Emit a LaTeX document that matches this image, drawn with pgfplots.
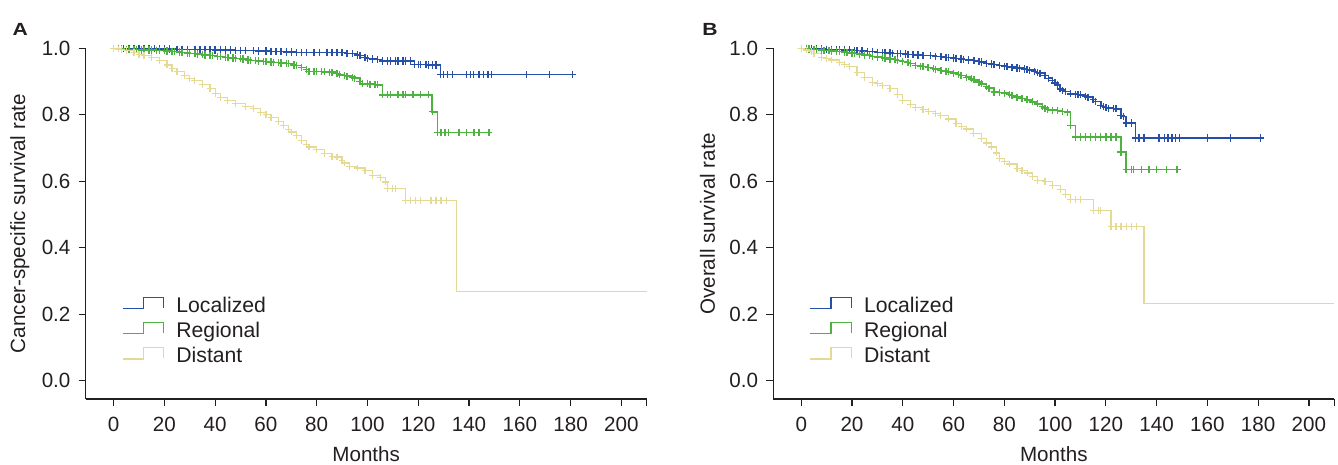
\documentclass[border=0pt]{standalone}
\usepackage{pgfplots}
\pgfplotsset{compat=1.18}
\usepackage{fontspec}
\setmainfont{Liberation Sans}

\definecolor{loc}{RGB}{38,80,168}
\definecolor{reg}{RGB}{78,178,64}
\definecolor{dis}{RGB}{228,218,148}
\definecolor{txt}{RGB}{35,31,32}

\pgfplotsset{
  km/.style={
    scale only axis, width=280.5pt, height=175.35pt,
    xmin=-11, xmax=210, ymin=-0.055, ymax=1.0,
    axis lines=left, axis line style={-, txt, line width=0.6pt},
    tick style={txt, line width=0.6pt}, tick align=outside,
    major tick length=3.5pt,
    xtick={0,20,...,200}, ytick={0,0.2,0.4,0.6,0.8,1.0},
    extra x ticks={210}, extra x tick labels={},
    /pgf/number format/assume math mode=true,
    yticklabel style={/pgf/number format/fixed, /pgf/number format/fixed zerofill,
      /pgf/number format/precision=1, xshift=-0.5pt},
    ticklabel style={text=txt},
    xticklabel style={yshift=-2pt},
    xlabel style={at={(rel axis cs:0.5,0)}, anchor=base, yshift=-31.3pt, text=txt},
    ylabel style={at={(rel axis cs:0,0.5)}, anchor=center, yshift=32.9pt, text=txt},
    xlabel={Months},
    clip=false,
    legend cell align=left,
    legend style={draw=none, fill=none, inner sep=0pt, outer sep=0pt,
      at={(rel axis cs:0.0647,0.292)}, anchor=north west,
      row sep=4.6pt, column sep=6pt,
      nodes={inner sep=0pt, text height=7.3pt, text depth=0pt, text=txt,
        font=\fontsize{10.6}{12}\selectfont}},
    legend image code/.code={
      \draw[#1, line width=0.7pt] (0pt,-1.6pt) -- (10.3pt,-1.6pt) -- (10.3pt,4pt)
        -- (20.5pt,4pt) -- (20.5pt,-1.3pt);},
  },
  loccurve/.style={loc, line width=0.75pt, const plot, mark=+, mark size=1.8pt,
    mark options={line width=0.7pt}},
  regcurve/.style={reg, line width=0.75pt, const plot, mark=+, mark size=1.8pt,
    mark options={line width=0.7pt}},
  discurve/.style={dis, line width=0.6pt, const plot, mark=+, mark size=1.7pt,
    mark options={line width=0.6pt}},
}

\begin{document}
\begin{tikzpicture}
\fontsize{10.3}{12}\selectfont
\path[use as bounding box] (-42.85pt,-33pt) rectangle (626.15pt,199.5pt);

% ---- A: cancer-specific survival
\begin{axis}[km, ylabel={Cancer-specific survival rate}]
\addplot[loccurve] coordinates {
 (0,1.0) (2,1.0) (4,1.0) (6,1.0) (8,1.0) (10,0.999) (12,0.999) (14,0.999) (16,0.999)
 (18,0.998) (20,0.998) (22,0.998) (25,0.997) (27,0.997) (29,0.997) (32,0.996)
 (34,0.996) (36,0.996) (38,0.996) (40,0.995) (42,0.995) (44,0.995) (46,0.995)
 (48,0.994) (50,0.994) (52,0.994) (55,0.993) (57,0.992) (60,0.992) (62,0.991)
 (64,0.990) (66,0.990) (68,0.989) (70,0.989) (72,0.988) (74,0.988) (76,0.988)
 (79,0.988) (81,0.988) (84,0.988) (86,0.988) (88,0.987) (90,0.987) (92,0.985)
 (94,0.984) (96,0.980) (97,0.978) (99,0.973) (100,0.970) (102,0.968) (104,0.966)
 (106,0.962) (108,0.962) (109,0.962) (111,0.962) (112,0.962) (114,0.962) (115,0.962)
 (117,0.962) (118.5,0.951) (120,0.951) (121,0.951) (123,0.951) (124,0.950)
 (125.5,0.950) (127,0.950) (128.8,0.921) (130,0.921) (131.5,0.921) (133.5,0.921)
 (139,0.921) (140.5,0.921) (141.8,0.921) (144,0.921) (145.7,0.921) (147.5,0.921)
 (148.9,0.921) (162.7,0.921) (171.7,0.921) (180.8,0.921)};
\addlegendentry{Localized}
\addplot[regcurve] coordinates {
 (0,1.0) (2,0.999) (3,0.998) (5,0.997) (6,0.997) (8,0.996) (9,0.996) (11,0.995)
 (12,0.995) (14,0.995) (15,0.995) (17,0.994) (18,0.994) (20,0.993) (21,0.992)
 (23,0.991) (24,0.990) (26,0.989) (27,0.988) (29,0.986) (30,0.985) (32,0.984)
 (33,0.983) (35,0.981) (36,0.980) (38,0.979) (39,0.978) (41,0.976) (42,0.975)
 (44,0.973) (45,0.972) (47,0.971) (48,0.970) (50,0.969) (51,0.968) (53,0.965)
 (54,0.964) (56,0.963) (57,0.962) (59,0.961) (60,0.960) (62,0.959) (63,0.958)
 (65,0.957) (66,0.956) (68,0.955) (69,0.954) (71,0.950) (72,0.948) (74,0.942)
 (76,0.936) (77,0.930) (79,0.930) (80,0.930) (82,0.930) (83,0.929) (85,0.928)
 (86,0.928) (88,0.924) (89,0.920) (91,0.918) (92,0.916) (94,0.913) (95,0.910)
 (97,0.900) (98,0.893) (100,0.893) (101,0.892) (103,0.891) (104,0.890) (106,0.860)
 (108,0.860) (109,0.860) (112,0.860) (114,0.860) (115,0.860) (118,0.860)
 (121,0.860) (124,0.860) (125.5,0.809) (127.5,0.746) (129,0.746) (130.5,0.746)
 (132,0.746) (136,0.746) (139,0.746) (142,0.746) (144,0.746) (147.8,0.746)};
\addlegendentry{Regional}
\addplot[discurve] coordinates {
 (0,1.0) (2,0.998) (3,0.996) (5,0.993) (8,0.987) (10,0.982) (12,0.978) (15,0.972)
 (18,0.963) (21,0.950) (23,0.940) (25,0.930) (28,0.918) (30,0.910) (32,0.903)
 (35,0.890) (38,0.878) (40,0.865) (42,0.853) (45,0.843) (48,0.833) (52,0.826)
 (55,0.818) (58,0.808) (60,0.800) (62,0.793) (65,0.780) (67,0.768) (69,0.756)
 (70,0.748) (72,0.738) (74,0.723) (76,0.710) (77,0.703) (80,0.695) (83,0.683)
 (86,0.675) (88,0.673) (90,0.662) (91,0.655) (93,0.645) (96,0.640) (99,0.633)
 (102,0.618) (105,0.612) (107,0.598) (108,0.578) (110,0.578) (111,0.578)
 (115,0.543) (117,0.543) (119,0.543) (121,0.543) (125,0.543) (127,0.543)
 (129,0.543) (131,0.543)};
\addlegendentry{Distant}
\addplot[dis, line width=0.6pt, const plot, forget plot] coordinates {
 (131,0.543) (135,0.269) (210,0.269)};
\node[anchor=north west, inner sep=0pt, font=\fontsize{8.8}{10}\selectfont\bfseries, text=txt]
  at (rel axis cs:-0.131,1.073) {\scalebox{1.2}[1]{A}};
\end{axis}

% ---- B: overall survival
\begin{axis}[km, at={(343.8pt,0pt)}, ylabel={Overall survival rate}]
\addplot[loccurve] coordinates {
 (0,1.0) (2,1.0) (4,0.999) (6,0.998) (8,0.998) (10,0.997) (12,0.997) (14,0.996)
 (15,0.996) (17,0.995) (19,0.995) (21,0.994) (22,0.993) (24,0.992) (26,0.991)
 (28,0.990) (30,0.988) (32,0.987) (33,0.987) (35,0.986) (36,0.985) (38,0.984)
 (39,0.984) (41,0.983) (42,0.982) (44,0.981) (46,0.980) (48,0.979) (51,0.978)
 (53,0.976) (55,0.975) (57,0.973) (58,0.972) (60,0.971) (61,0.970) (63,0.968)
 (64,0.967) (66,0.965) (68,0.963) (70,0.960) (71,0.959) (73,0.955) (75,0.953)
 (76,0.951) (78,0.948) (80,0.946) (81,0.945) (83,0.943) (85,0.941) (86,0.940)
 (88,0.938) (89,0.936) (90,0.934) (92,0.930) (93,0.927) (94,0.925) (96,0.918)
 (97.5,0.910) (99,0.903) (100,0.896) (101,0.890) (102,0.878) (103,0.874)
 (104,0.870) (106,0.863) (108,0.862) (109,0.861) (110,0.860) (112,0.856)
 (113,0.853) (115,0.846) (116,0.840) (118,0.828) (119,0.824) (120,0.822)
 (121,0.820) (123,0.818) (124,0.818) (126,0.798) (127,0.795) (128,0.775)
 (130,0.775) (131.7,0.730) (133,0.730) (135,0.730) (141,0.730) (143,0.730)
 (144.5,0.730) (146,0.730) (147.5,0.730) (149,0.730) (160,0.730) (169,0.730)
 (181,0.730)};
\addlegendentry{Localized}
\addplot[regcurve] coordinates {
 (0,1.0) (2,0.999) (3,0.998) (5,0.997) (6,0.996) (8,0.995) (9,0.994) (11,0.993)
 (12,0.992) (14,0.991) (15,0.990) (17,0.989) (18,0.988) (20,0.986) (21,0.985)
 (23,0.983) (25,0.980) (27,0.978) (28,0.976) (30,0.974) (32,0.972) (33,0.971)
 (35,0.968) (37,0.966) (38,0.964) (40,0.960) (42,0.957) (43,0.954) (45,0.948)
 (47,0.946) (48,0.945) (50,0.942) (52,0.939) (53,0.937) (55,0.933) (57,0.931)
 (58,0.929) (60,0.925) (62,0.921) (63,0.918) (65,0.913) (67,0.908) (68,0.905)
 (70,0.898) (71,0.893) (73,0.885) (74,0.880) (76,0.868) (78,0.867) (80,0.865)
 (82,0.861) (83,0.858) (85,0.853) (87,0.849) (89,0.845) (91,0.839) (93,0.833)
 (95,0.825) (96,0.820) (97,0.815) (99,0.814) (101,0.812) (103,0.810) (105,0.808)
 (106,0.768) (108,0.733) (110,0.733) (112,0.733) (114,0.733) (116,0.733)
 (118,0.733) (120,0.733) (122,0.733) (124,0.733) (126,0.688) (128,0.636)
 (130,0.636) (131,0.636) (134,0.636) (137,0.636) (140,0.636) (144,0.636)
 (148,0.636)};
\addlegendentry{Regional}
\addplot[discurve] coordinates {
 (0,1.0) (2,0.995) (4,0.990) (5,0.985) (8,0.973) (10,0.969) (12,0.965) (15,0.958)
 (17,0.952) (19,0.945) (22,0.928) (25,0.912) (28,0.898) (30,0.893) (32,0.888)
 (35,0.878) (38,0.860) (40,0.843) (43,0.832) (45,0.823) (48,0.816) (50,0.810)
 (53,0.804) (55,0.798) (58,0.787) (61,0.773) (63,0.765) (65,0.757) (68,0.743)
 (71,0.728) (73,0.715) (75,0.703) (77,0.685) (78,0.668) (80,0.660) (82,0.652)
 (85,0.638) (87,0.632) (89,0.625) (91,0.614) (93,0.603) (96,0.600) (99,0.588)
 (102,0.575) (104,0.560) (106,0.545) (108,0.545) (110,0.545) (115,0.513)
 (117,0.513) (118,0.513) (122,0.463) (124,0.463) (126,0.463) (128,0.463)
 (130,0.463) (132,0.463)};
\addlegendentry{Distant}
\addplot[dis, line width=0.6pt, const plot, forget plot] coordinates {
 (132,0.463) (135,0.232) (210,0.232)};
\node[anchor=north west, inner sep=0pt, font=\fontsize{8.8}{10}\selectfont\bfseries, text=txt]
  at (rel axis cs:-0.127,1.073) {\scalebox{1.2}[1]{B}};
\end{axis}
\end{tikzpicture}
\end{document}
